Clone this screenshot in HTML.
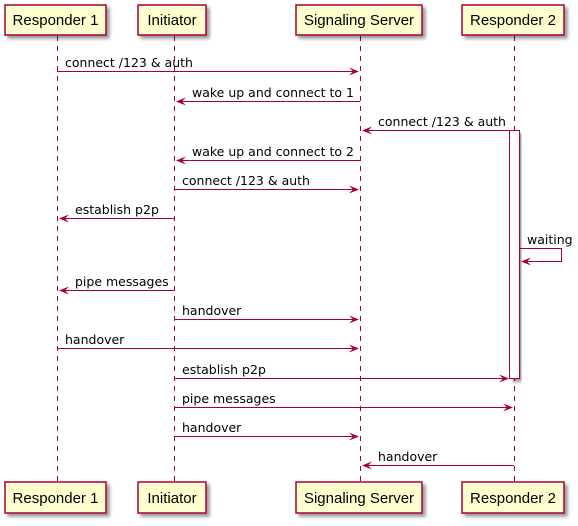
<!DOCTYPE html>
<html><head><meta charset="utf-8"><style>
html,body{margin:0;padding:0;background:#fff;}
svg{display:block;}
text{font-family:"DejaVu Sans","Liberation Sans",sans-serif;font-size:12.5px;fill:#000;}
text.h{font-family:"Liberation Sans","DejaVu Sans",sans-serif;font-size:15px;}
</style></head><body>
<svg width="578" height="526" viewBox="0 0 578 526" xmlns="http://www.w3.org/2000/svg">
<defs>
<filter id="sh" x="-10%" y="-10%" width="130%" height="150%"><feGaussianBlur in="SourceAlpha" stdDeviation="1.5"/><feOffset dx="3" dy="3"/><feComponentTransfer><feFuncA type="linear" slope="0.4"/></feComponentTransfer><feMerge><feMergeNode/><feMergeNode in="SourceGraphic"/></feMerge></filter>
</defs>
<g stroke="#A80036" stroke-width="1" stroke-dasharray="5,5">
<line x1="57.5" y1="36" x2="57.5" y2="482"/>
<line x1="174.5" y1="36" x2="174.5" y2="482"/>
<line x1="360.5" y1="36" x2="360.5" y2="482"/>
<line x1="514.5" y1="36" x2="514.5" y2="482"/>
</g>
<rect x="509.5" y="130.5" width="10" height="248" fill="#fff" stroke="#A80036" filter="url(#sh)"/>
<g fill="#FEFECE" stroke="#A80036" stroke-width="1.5" filter="url(#sh)">
<rect x="5" y="5" width="101" height="30"/>
<rect x="138" y="5" width="68" height="30"/>
<rect x="296" y="5" width="126" height="30"/>
<rect x="462" y="5" width="102" height="30"/>
<rect x="5" y="482" width="101" height="31"/>
<rect x="138" y="482" width="68" height="31"/>
<rect x="296" y="482" width="126" height="31"/>
<rect x="462" y="482" width="102" height="31"/>
</g>
<text class="h" x="55.5" y="25" text-anchor="middle">Responder 1</text>
<text class="h" x="172" y="25" text-anchor="middle">Initiator</text>
<text class="h" x="359" y="25" text-anchor="middle">Signaling Server</text>
<text class="h" x="513" y="25" text-anchor="middle">Responder 2</text>
<text class="h" x="55.5" y="503" text-anchor="middle">Responder 1</text>
<text class="h" x="172" y="503" text-anchor="middle">Initiator</text>
<text class="h" x="359" y="503" text-anchor="middle">Signaling Server</text>
<text class="h" x="513" y="503" text-anchor="middle">Responder 2</text>
<g stroke="#A80036" stroke-width="1" fill="none">
<line x1="57" y1="71.5" x2="358" y2="71.5"/>
<line x1="177" y1="101.5" x2="360" y2="101.5"/>
<line x1="363" y1="130.5" x2="519" y2="130.5"/>
<line x1="177" y1="160.5" x2="360" y2="160.5"/>
<line x1="175" y1="189.5" x2="358" y2="189.5"/>
<line x1="60" y1="218.5" x2="174" y2="218.5"/>
<polyline points="519.5,248.5 561.5,248.5 561.5,261.5 522,261.5"/>
<line x1="60" y1="290.5" x2="174" y2="290.5"/>
<line x1="175" y1="319.5" x2="358" y2="319.5"/>
<line x1="57" y1="348.5" x2="358" y2="348.5"/>
<line x1="175" y1="378.5" x2="508" y2="378.5"/>
<line x1="175" y1="407.5" x2="512" y2="407.5"/>
<line x1="175" y1="436.5" x2="358" y2="436.5"/>
<line x1="363" y1="465.5" x2="514" y2="465.5"/>
</g>
<g fill="#A80036">
<polygon points="359,71.5 349,67.5 353,71.5 349,75.5"/>
<polygon points="176,101.5 186,97.5 182,101.5 186,105.5"/>
<polygon points="362,130.5 372,126.5 368,130.5 372,134.5"/>
<polygon points="176,160.5 186,156.5 182,160.5 186,164.5"/>
<polygon points="359,189.5 349,185.5 353,189.5 349,193.5"/>
<polygon points="59,218.5 69,214.5 65,218.5 69,222.5"/>
<polygon points="521,261.5 531,257.5 527,261.5 531,265.5"/>
<polygon points="59,290.5 69,286.5 65,290.5 69,294.5"/>
<polygon points="359,319.5 349,315.5 353,319.5 349,323.5"/>
<polygon points="359,348.5 349,344.5 353,348.5 349,352.5"/>
<polygon points="509,378.5 499,374.5 503,378.5 499,382.5"/>
<polygon points="513,407.5 503,403.5 507,407.5 503,411.5"/>
<polygon points="359,436.5 349,432.5 353,436.5 349,440.5"/>
<polygon points="362,465.5 372,461.5 368,465.5 372,469.5"/>
</g>
<text x="65" y="67">connect /123 &amp; auth</text>
<text x="192" y="97">wake up and connect to 1</text>
<text x="378" y="126">connect /123 &amp; auth</text>
<text x="192" y="156">wake up and connect to 2</text>
<text x="182" y="185">connect /123 &amp; auth</text>
<text x="75" y="214">establish p2p</text>
<text x="527" y="244">waiting</text>
<text x="75" y="286">pipe messages</text>
<text x="182" y="315">handover</text>
<text x="65" y="344">handover</text>
<text x="182" y="374">establish p2p</text>
<text x="182" y="403">pipe messages</text>
<text x="182" y="432">handover</text>
<text x="378" y="461">handover</text>
</svg>
</body></html>
